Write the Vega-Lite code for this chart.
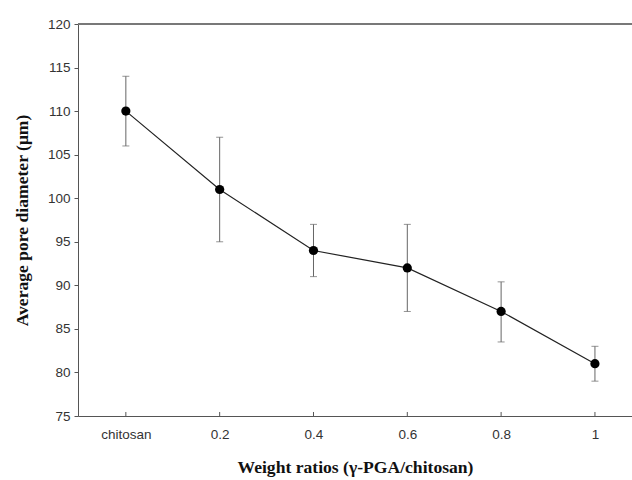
{
  "$schema": "https://vega.github.io/schema/vega-lite/v6.json",
  "width": 554,
  "height": 392,
  "autosize": {"type": "none"},
  "padding": {"left": 78, "top": 24, "right": 0, "bottom": 64},
  "background": "white",
  "config": {
    "view": {"stroke": null},
    "axis": {"grid": false, "domainColor": "#555", "tickColor": "#555", "labelFont": "Liberation Sans", "labelFontSize": 13.5, "labelColor": "#333", "titleFont": "Liberation Serif", "titleFontSize": 17.6, "titleFontWeight": "bold", "titleColor": "#111"}
  },
  "data": {"values": [
    {"group": "chitosan", "x": 0, "mean": 110, "lo": 106, "hi": 114},
    {"group": "0.2", "x": 0.2, "mean": 101, "lo": 95, "hi": 107},
    {"group": "0.4", "x": 0.4, "mean": 94, "lo": 91, "hi": 97},
    {"group": "0.6", "x": 0.6, "mean": 92, "lo": 87, "hi": 97},
    {"group": "0.8", "x": 0.8, "mean": 87, "lo": 83.5, "hi": 90.4},
    {"group": "1", "x": 1, "mean": 81, "lo": 79, "hi": 83}
  ]},
  "layer": [
    {"mark": {"type": "rule", "color": "#777", "strokeWidth": 1.2}, "encoding": {"y": {"datum": 120}}},
    {"mark": {"type": "rule", "color": "#555", "strokeWidth": 1}, "encoding": {"x": {"field": "x", "type": "quantitative"}, "y": {"datum": 75}, "y2": {"datum": 75.46}}},
    {"mark": {"type": "rule", "color": "#666", "strokeWidth": 1}, "encoding": {"x": {"field": "x", "type": "quantitative"}, "y": {"field": "lo", "type": "quantitative"}, "y2": {"field": "hi"}}},
    {"mark": {"type": "tick", "orient": "horizontal", "color": "#666", "size": 7, "thickness": 1}, "encoding": {"x": {"field": "x", "type": "quantitative"}, "y": {"field": "lo", "type": "quantitative"}}},
    {"mark": {"type": "tick", "orient": "horizontal", "color": "#666", "size": 7, "thickness": 1}, "encoding": {"x": {"field": "x", "type": "quantitative"}, "y": {"field": "hi", "type": "quantitative"}}},
    {"mark": {"type": "line", "color": "#222", "strokeWidth": 1.2}, "encoding": {"x": {"field": "x", "type": "quantitative"}, "y": {"field": "mean", "type": "quantitative"}}},
    {"mark": {"type": "point", "filled": true, "color": "#000", "opacity": 1, "size": 85}, "encoding": {
      "x": {"field": "x", "type": "quantitative", "scale": {"domain": [-0.102, 1.079], "nice": false, "zero": false},
        "axis": {"values": [0, 0.2, 0.4, 0.6, 0.8, 1], "labelExpr": "datum.value == 0 ? 'chitosan' : format(datum.value, '~g')", "ticks": false, "labelPadding": 11, "title": "Weight ratios (γ-PGA/chitosan)", "titlePadding": 18}},
      "y": {"field": "mean", "type": "quantitative", "scale": {"domain": [75, 120], "nice": false, "zero": false},
        "axis": {"values": [75, 80, 85, 90, 95, 100, 105, 110, 115, 120], "tickSize": 4, "labelPadding": 4, "title": "Average pore diameter (μm)", "titlePadding": 16}}}}
  ]
}
